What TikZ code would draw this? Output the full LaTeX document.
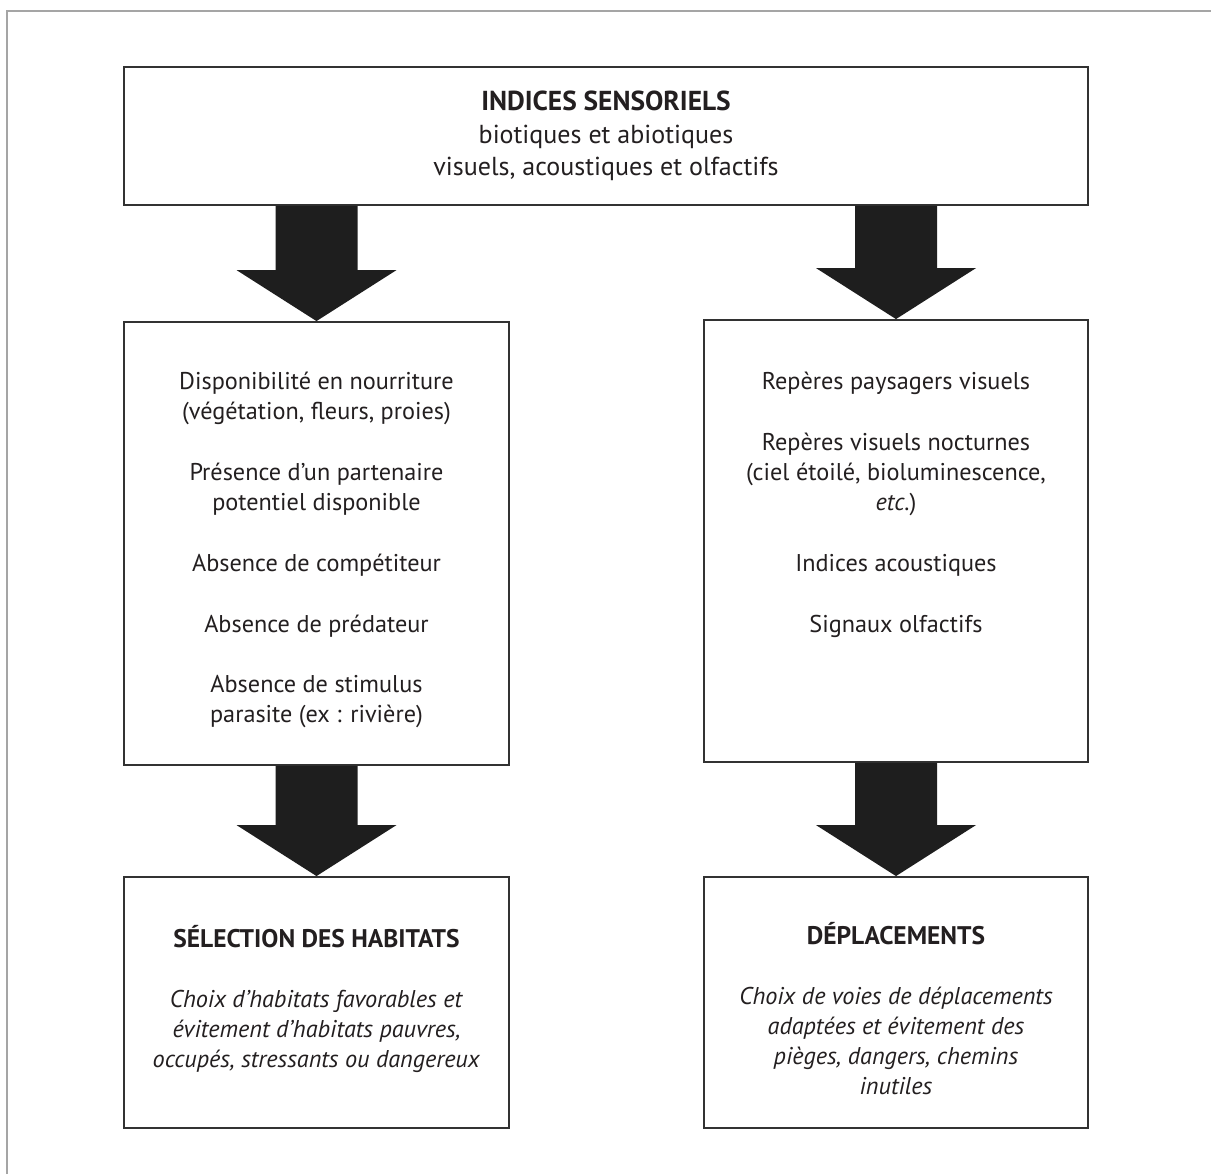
\documentclass[tikz,border=0pt]{standalone}
\usepackage{fontspec}
\setmainfont{PT Sans}
\usetikzlibrary{calc,positioning}
\definecolor{linegray}{RGB}{50,50,50}
\definecolor{arrowgray}{RGB}{30,30,30}
\definecolor{framegray}{RGB}{165,165,165}
\definecolor{textgray}{RGB}{35,31,32}

% broad block arrow pointing down, from #1 (top of shaft) to #2 (tip)
\newcommand{\bigdown}[2]{%
  \fill[arrowgray] ($(#1)+(-41,0)$) -- ($(#2)+(-41,-51)$) -- ($(#2)+(-80,-51)$) -- (#2)
    -- ($(#2)+(80,-51)$) -- ($(#2)+(41,-51)$) -- ($(#1)+(41,0)$) -- cycle;}
% heading line, a little larger and bold
\newcommand{\hdline}[2]{{\fontsize{#1}{17}\selectfont\bfseries #2}}

\tikzset{
  box/.style={draw=linegray,line width=1.1pt,inner sep=0pt},
  txt/.style={text=textgray,align=center,inner sep=0pt,anchor=north,
    font=\fontsize{13.8}{17.07}\selectfont},
}

\begin{document}
\begin{tikzpicture}[x=0.02cm,y=-0.02cm]
  \useasboundingbox (0,0) rectangle (1211,1174);
  \fill[white] (0,0) rectangle (1211,1174);
  % outer frame
  \draw[framegray,line width=0.8pt] (7,1174) -- (7,11) -- (1211,11);
  % boxes
  \node[box,minimum width=19.28cm,minimum height=2.76cm,text=textgray,align=center,
    font=\fontsize{14.8}{18.5}\selectfont] (indices) at (606,136)
    {\hdline{15.6}{INDICES SENSORIELS}\\biotiques et abiotiques\\visuels, acoustiques et olfactifs};
  \node[box,minimum width=7.7cm,minimum height=8.86cm] (ressources) at (316.5,543.5) {};
  \node[box,minimum width=7.68cm,minimum height=8.84cm] (reperes) at (896,541) {};
  \node[box,minimum width=7.7cm,minimum height=5.02cm] (habitats) at (316.5,1002.5) {};
  \node[box,minimum width=7.68cm,minimum height=5.02cm] (deplacements) at (896,1002.5) {};
  % arrows
  \bigdown{indices.south -| ressources.north}{ressources.north}
  \bigdown{indices.south -| reperes.north}{reperes.north}
  \bigdown{ressources.south}{habitats.north}
  \bigdown{reperes.south}{deplacements.north}
  % texts
  \node[txt] (ressourcestxt) at (316.5,372)
    {Disponibilité en nourriture\\(végétation, fleurs, proies)\\[17.5pt]
     Présence d’un partenaire\\potentiel disponible\\[17.5pt]
     Absence de compétiteur\\[17.5pt]
     Absence de prédateur\\[17.5pt]
     Absence de stimulus\\parasite (ex : rivière)};
  \node[txt] (reperestxt) at (896,372)
    {Repères paysagers visuels\\[17.5pt]
     Repères visuels nocturnes\\(ciel étoilé, bioluminescence,\\\textit{etc.})\\[17.5pt]
     Indices acoustiques\\[17.5pt]
     Signaux olfactifs};
  \node[txt] (habitatstxt) at (316.5,925)
    {\hdline{14.5}{SÉLECTION DES HABITATS}\\[17pt]
     \textit{Choix d’habitats favorables et}\\
     \textit{évitement d’habitats pauvres,}\\
     \textit{occupés, stressants ou dangereux}};
  \node[txt] (deplacementstxt) at (896,922)
    {\hdline{14.5}{DÉPLACEMENTS}\\[17pt]
     \textit{Choix de voies de déplacements}\\
     \textit{adaptées et évitement des}\\
     \textit{pièges, dangers, chemins}\\
     \textit{inutiles}};
\end{tikzpicture}
\end{document}
